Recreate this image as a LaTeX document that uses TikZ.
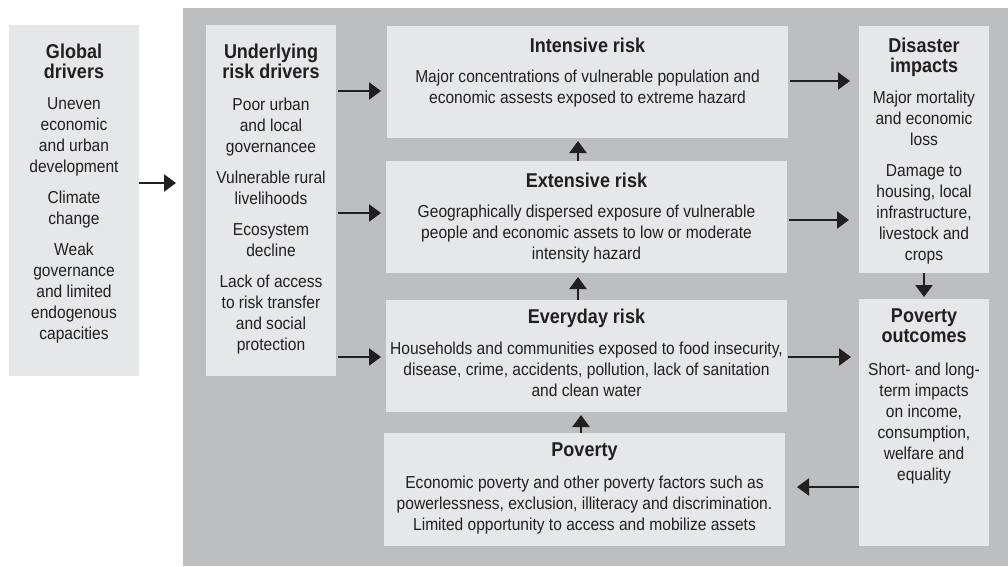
\documentclass[tikz,border=0pt]{standalone}
\usepackage{fontspec}
\setmainfont{Liberation Sans}[FakeStretch=0.9]
\usetikzlibrary{positioning, arrows.meta}

\definecolor{bggray}{HTML}{BDBEC0}
\definecolor{boxgray}{HTML}{E6E7E8}
\definecolor{ink}{HTML}{231F20}

\begin{document}
\begin{tikzpicture}[
  x=1pt, y=-1pt,
  panel/.style={fill=boxgray, anchor=north west, inner sep=0pt, outer sep=0pt},
  tall/.style={panel, minimum width=130pt, minimum height=351pt},
  wide/.style={panel, minimum width=401pt, minimum height=112pt},
  side/.style={panel, minimum width=130pt, minimum height=247pt},
  head/.style={anchor=north, align=center, inner sep=0pt, text=ink, font=\fontsize{20}{20}\selectfont\bfseries},
  body/.style={anchor=north, align=center, inner sep=0pt, text=ink, font=\fontsize{17.3}{21}\selectfont},
  ar/.style={-{Triangle[length=12pt,width=17pt]}, line width=2.5pt, draw=ink}
]
  \useasboundingbox (0,0) rectangle (1008,566);
  \fill[bggray] (183,8) rectangle (1008,566);

  % panels
  \node[tall] (global) at (9,25) {};
  \node[tall] (under) at (206,25) {};
  \node[wide] (intensive) at (387,26) {};
  \node[wide] (extensive) at (386,161) {};
  \node[wide] (everyday) at (386,300) {};
  \node[wide, minimum height=113pt] (poverty) at (384,433) {};
  \node[side] (disaster) at (859,26) {};
  \node[side] (outcomes) at (859,299) {};

  % texts
  \node[head, below=18.7pt of global.north] (global-h) {Global\\drivers};
  \node[body, below=72.6pt of global.north] (global-b)
    {Uneven\\economic\\and urban\\development\\[10pt]
     Climate\\change\\[10pt]
     Weak\\governance\\and limited\\endogenous\\capacities};
  \node[head, below=18.7pt of under.north] (under-h) {Underlying\\risk drivers};
  \node[body, below=72.6pt of under.north] (under-b)
    {Poor urban\\and local\\governancee\\[10pt]
     Vulnerable rural\\livelihoods\\[10pt]
     Ecosystem\\decline\\[10pt]
     Lack of access\\to risk transfer\\and social\\protection};
  \node[head, below=11.7pt of intensive.north] (intensive-h) {Intensive risk};
  \node[body, below=43.6pt of intensive.north] (intensive-b)
    {Major concentrations of vulnerable population and\\economic assests exposed to extreme hazard};
  \node[head, below=11.7pt of extensive.north] (extensive-h) {Extensive risk};
  \node[body, below=43.6pt of extensive.north] (extensive-b)
    {Geographically dispersed exposure of vulnerable\\people and economic assets to low or moderate\\intensity hazard};
  \node[head, below=8.7pt of everyday.north] (everyday-h) {Everyday risk};
  \node[body, below=41.6pt of everyday.north] (everyday-b)
    {Households and communities exposed to food insecurity,\\disease, crime, accidents, pollution, lack of sanitation\\and clean water};
  \node[head, below=9.7pt of poverty.north] (poverty-h) {Poverty};
  \node[body, below=42.6pt of poverty.north] (poverty-b)
    {Economic poverty and other poverty factors such as\\powerlessness, exclusion, illiteracy and discrimination.\\Limited opportunity to access and mobilize assets};
  \node[head, below=11.7pt of disaster.north] (disaster-h) {Disaster\\impacts};
  \node[body, below=64.6pt of disaster.north] (disaster-b)
    {Major mortality\\and economic\\loss\\[10pt]
     Damage to\\housing, local\\infrastructure,\\livestock and\\crops};
  \node[head, below=9.7pt of outcomes.north] (outcomes-h) {Poverty\\outcomes};
  \node[body, below=63.6pt of outcomes.north] (outcomes-b)
    {Short- and long-\\term impacts\\on income,\\consumption,\\welfare and\\equality};

  % connectors
  \draw[ar, shorten >=30pt] (global.east |- 0,183) -- (under.west |- 0,183);
  \draw[ar, shorten <=2pt, shorten >=6pt] (under.east |- 0,91) -- (intensive.west |- 0,91);
  \draw[ar, shorten <=2pt, shorten >=5pt] (under.east |- 0,213) -- (extensive.west |- 0,213);
  \draw[ar, shorten <=2pt, shorten >=5pt] (under.east |- 0,357) -- (everyday.west |- 0,357);
  \draw[ar, shorten <=2pt, shorten >=9pt] (intensive.east |- 0,81) -- (disaster.west |- 0,81);
  \draw[ar, shorten <=2pt, shorten >=10pt] (extensive.east |- 0,220) -- (disaster.west |- 0,220);
  \draw[ar, shorten <=1pt, shorten >=8pt] (everyday.east |- 0,357) -- (outcomes.west |- 0,357);
  \draw[ar, shorten >=12pt] (outcomes.west |- 0,487) -- (poverty.east |- 0,487);
  \draw[ar, shorten >=3pt] (578,0 |- extensive.north) -- (578,0 |- intensive.south);
  \draw[ar, shorten >=4pt] (578,0 |- everyday.north) -- (578,0 |- extensive.south);
  \draw[ar, shorten >=3pt] (581,0 |- poverty.north) -- (581,0 |- everyday.south);
  \draw[ar, shorten >=2pt] (disaster.south) -- (outcomes.north);
\end{tikzpicture}
\end{document}
